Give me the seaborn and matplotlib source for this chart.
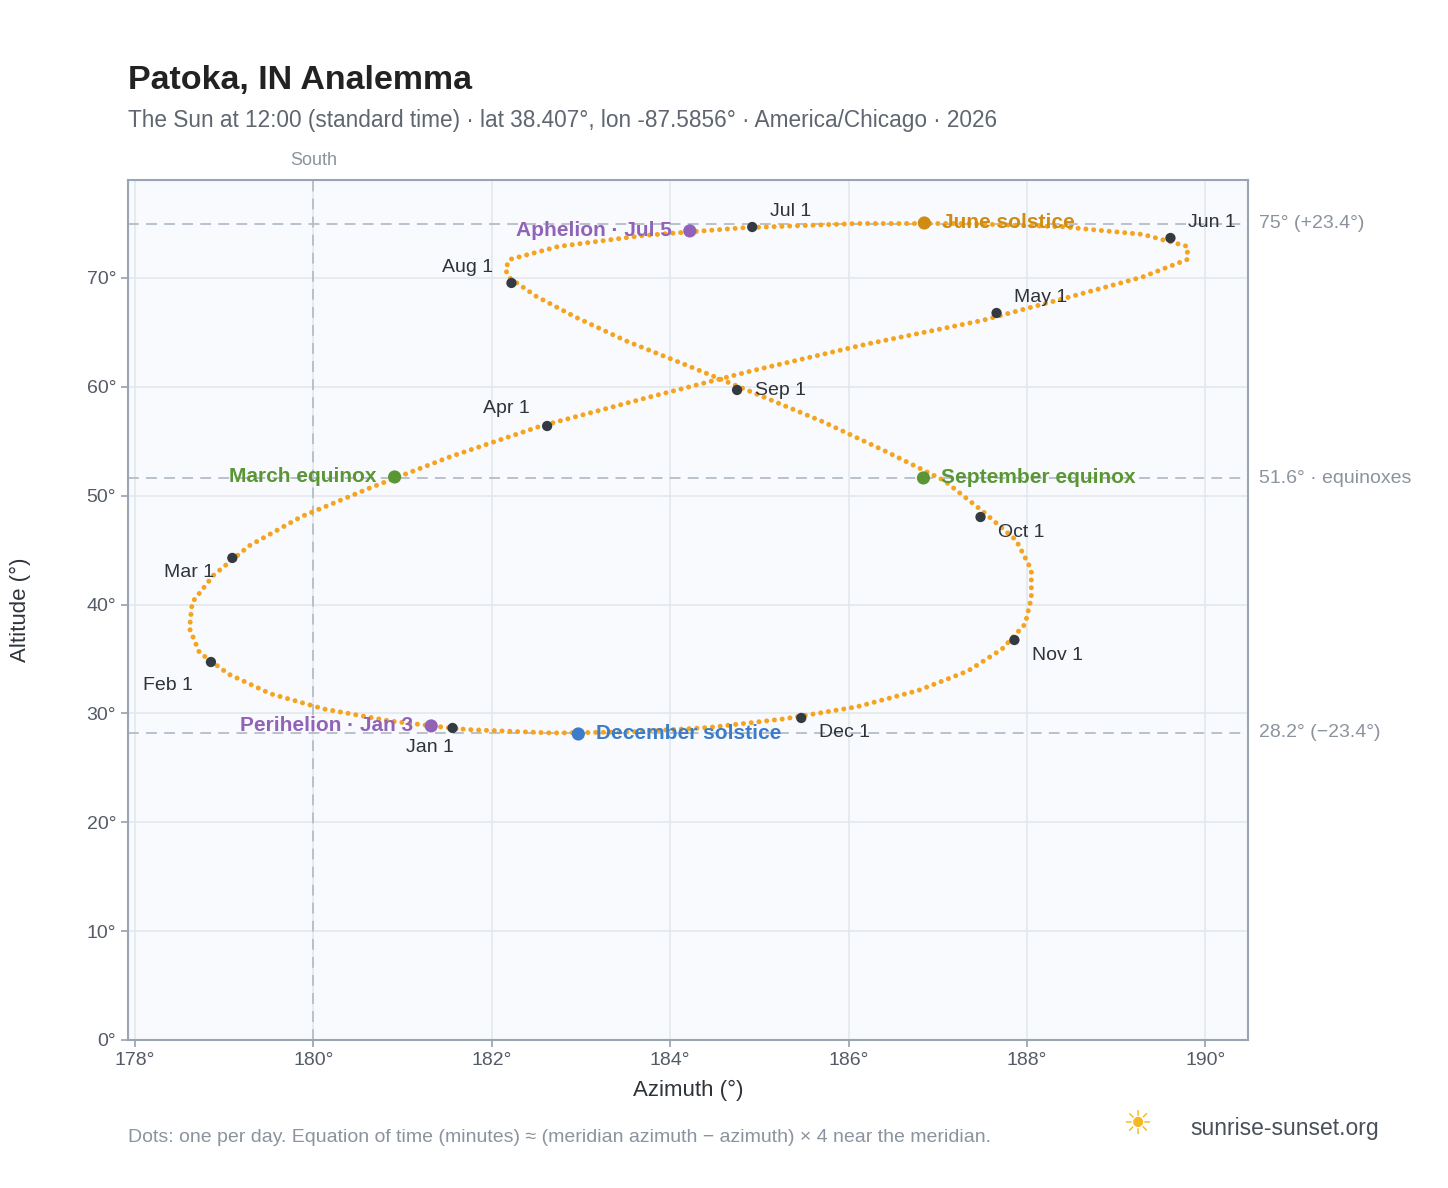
import matplotlib
matplotlib.use("Agg")
import matplotlib.pyplot as plt
import seaborn as sns
import pandas as pd

# Sun position at 12:00 standard time, roughly weekly
path_az = [181.60, 180.86, 180.12, 179.52, 179.05, 178.72, 178.61, 178.64, 178.88, 179.28,
           179.87, 180.66, 181.54, 182.55, 183.74, 184.93, 186.19, 187.50, 188.50, 189.30,
           189.80, 189.80, 189.30, 188.40, 187.30, 186.10, 184.80, 183.70, 182.75, 182.20,
           182.15, 182.20, 182.50, 182.94, 183.51, 184.21, 184.95, 185.71, 186.41, 187.07,
           187.50, 187.88, 188.05, 188.05, 187.98, 187.72, 187.34, 186.78, 186.09, 185.28,
           184.43, 183.57, 182.68, 181.77, 181.60]
path_alt = [28.6, 29.3, 30.4, 31.8, 33.6, 35.6, 37.8, 40.2, 42.7, 45.4,
            48.1, 50.8, 53.6, 56.4, 59.0, 61.5, 63.9, 66.1, 68.3, 70.1,
            71.7, 72.9, 74.0, 74.7, 75.0, 75.0, 74.6, 73.9, 72.9, 71.7,
            70.8, 70.0, 68.3, 66.4, 64.2, 61.9, 59.4, 56.8, 54.1, 51.4,
            48.6, 45.9, 43.2, 40.6, 38.2, 35.9, 33.9, 32.1, 30.6, 29.5,
            28.7, 28.3, 28.2, 28.5, 28.6]

months = ["Jan 1", "Feb 1", "Mar 1", "Apr 1", "May 1", "Jun 1",
          "Jul 1", "Aug 1", "Sep 1", "Oct 1", "Nov 1", "Dec 1"]
month_az = [181.56, 178.85, 179.09, 182.62, 187.66, 189.61, 184.92, 182.22, 184.75, 187.48, 187.86, 185.47]
month_alt = [28.66, 34.72, 44.28, 56.40, 66.78, 73.67, 74.68, 69.54, 59.71, 48.04, 36.74, 29.58]

events = ["March equinox", "June solstice", "September equinox", "December solstice",
          "Perihelion · Jan 3", "Aphelion · Jul 5"]
event_az = [180.91, 186.85, 186.84, 182.97, 181.32, 184.22]
event_alt = [51.72, 75.05, 51.63, 28.11, 28.85, 74.32]
event_colors = ["#5a9634", "#d08c12", "#5a9634", "#3b7dc9", "#9063b8", "#9063b8"]

ref_levels = [75.0, 51.6, 28.2]
ref_labels = ["75° (+23.4°)", "51.6° · equinoxes", "28.2° (−23.4°)"]

sns.set_theme(style="white")
plt.rcParams['font.family'] = ['Liberation Sans', 'DejaVu Sans']

fig = plt.figure(figsize=(14.48, 11.88), dpi=100)
ax = fig.add_axes([0.0884, 0.1246, 0.7735, 0.7239])
ax.set_facecolor("#f8fafd")
ax.set_xlim(177.92, 190.48)
ax.set_ylim(0, 79.0)
ax.set_xticks(range(178, 191, 2))
ax.set_xticklabels([f"{v}°" for v in range(178, 191, 2)])
ax.set_yticks(range(0, 71, 10))
ax.set_yticklabels([f"{v}°" for v in range(0, 71, 10)])
ax.grid(True, color="#e3e8ee", lw=1.2)
for s in ax.spines.values():
    s.set_color("#9aa5b3")
    s.set_linewidth(1.5)
ax.tick_params(colors="#555b66", labelsize=14, length=5, color="#9aa5b3", left=True, bottom=True)

# reference lines
for lv, lb in zip(ref_levels, ref_labels):
    ax.axhline(lv, color="#b4bec8", ls=(0, (6, 4)), lw=1.3, zorder=1)
    ax.text(190.48 + 0.12, lv, lb, color="#8a939e", fontsize=14, va="center", ha="left", clip_on=False)
ax.axvline(180, color="#b4bec8", ls=(0, (6, 4)), lw=1.3, zorder=1)
ax.text(180, 80.0, "South", color="#8a939e", fontsize=13, ha="center", va="bottom", clip_on=False)

# daily dotted path
ax.plot(path_az, path_alt, color="#f5a41f", lw=3.6, ls=(0, (0.01, 1.55)),
        dash_capstyle="round", zorder=3)

mdf = pd.DataFrame({"az": month_az, "alt": month_alt, "name": months})
sns.scatterplot(data=mdf, x="az", y="alt", color="#343a42", s=55, edgecolor="none", ax=ax, zorder=5)
moffs = {"Jan 1": (-0.25, -1.0, "center", "top"), "Feb 1": (-0.2, -1.4, "right", "top"),
         "Mar 1": (-0.2, -0.6, "right", "top"), "Apr 1": (-0.2, 0.8, "right", "bottom"),
         "May 1": (0.2, 0.6, "left", "bottom"), "Jun 1": (0.2, 0.6, "left", "bottom"),
         "Jul 1": (0.2, 0.6, "left", "bottom"), "Aug 1": (-0.2, 0.6, "right", "bottom"),
         "Sep 1": (0.2, -0.8, "left", "bottom"), "Oct 1": (0.2, -0.6, "left", "top"),
         "Nov 1": (0.2, -0.6, "left", "top"), "Dec 1": (0.2, -0.6, "left", "top")}
for n, x, y in zip(months, month_az, month_alt):
    dx, dy, ha, va = moffs[n]
    ax.text(x + dx, y + dy, n, fontsize=14, color="#2f343b", ha=ha, va=va, zorder=6)

edf = pd.DataFrame({"az": event_az, "alt": event_alt, "name": events})
sns.scatterplot(data=edf, x="az", y="alt", hue="name", palette=dict(zip(events, event_colors)),
                s=90, edgecolor="none", ax=ax, zorder=6, legend=False)
eside = ["right", "left", "left", "left", "right", "right"]
for n, x, y, c, side in zip(events, event_az, event_alt, event_colors, eside):
    dx = -0.2 if side == "right" else 0.2
    ax.text(x + dx, y, n, fontsize=15, color=c, fontweight="bold", ha=side, va="center", zorder=7)

ax.set_xlabel("Azimuth (°)", fontsize=16, color="#2f343b", labelpad=8)
ax.set_ylabel("Altitude (°)", fontsize=16, color="#2f343b", labelpad=40)

fig.text(0.0884, 0.925, "Patoka, IN Analemma", fontsize=24.5, fontweight="bold", color="#222222")
fig.text(0.0884, 0.893, "The Sun at 12:00 (standard time) · lat 38.407°, lon -87.5856° · America/Chicago · 2026",
         fontsize=16.3, color="#5f6670")
fig.text(0.0884, 0.0385, "Dots: one per day. Equation of time (minutes) ≈ (meridian azimuth − azimuth) × 4 near the meridian.",
         fontsize=14, color="#8a939e")
fig.text(0.822, 0.045, "sunrise-sunset.org", fontsize=16.5, color="#4a505a")
fig.text(0.775, 0.045, "☀", fontsize=24, color="#f5b821")

fig.savefig("out.png", dpi=100)
